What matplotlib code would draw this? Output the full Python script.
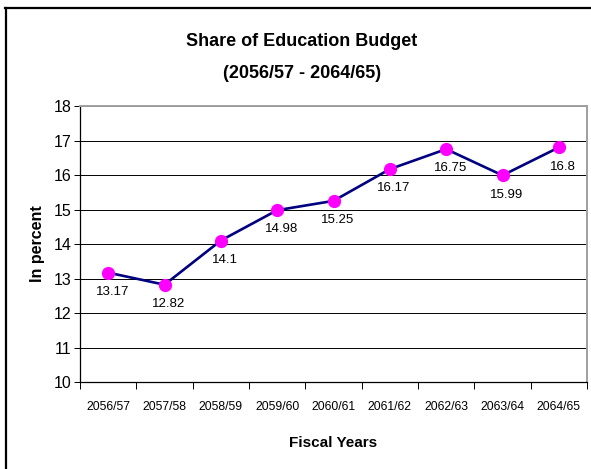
import matplotlib
matplotlib.use("Agg")
import matplotlib.pyplot as plt
from matplotlib.lines import Line2D

plt.rcParams["font.family"] = ["Liberation Sans", "DejaVu Sans"]

years = ["2056/57", "2057/58", "2058/59", "2059/60", "2060/61",
         "2061/62", "2062/63", "2063/64", "2064/65"]
share = [13.17, 12.82, 14.1, 14.98, 15.25, 16.17, 16.75, 15.99, 16.8]
share_labels = ["13.17", "12.82", "14.1", "14.98", "15.25",
                "16.17", "16.75", "15.99", "16.8"]

W, H = 591, 469
fig = plt.figure(figsize=(W / 100, H / 100), dpi=100)
fig.patch.set_facecolor("white")

# outer chart frame (left and top edges visible)
fig.add_artist(Line2D([5.5 / W, 5.5 / W], [0, 1 - 8 / H], transform=fig.transFigure,
                      color="black", lw=1.6))
fig.add_artist(Line2D([5 / W, 1], [1 - 8.5 / H, 1 - 8.5 / H], transform=fig.transFigure,
                      color="black", lw=1.6))

left, right, top, bottom = 80, 587, 106, 382
ax = fig.add_axes([left / W, 1 - bottom / H, (right - left) / W, (bottom - top) / H])

x = list(range(len(years)))
ax.plot(x, share, color="#000080", lw=1.9, zorder=3)
ax.plot(x, share, ls="none", marker="o", ms=8.5, color="#ff00ff",
        markeredgecolor="#ff00ff", zorder=4)
for xi, yi, lab in zip(x, share, share_labels):
    ax.annotate(lab, (xi, yi), xytext=(3, -9.5), textcoords="offset points",
                ha="center", va="top", fontsize=9.5, color="black", zorder=5)

ax.set_xlim(-0.5, len(years) - 0.5)
ax.set_ylim(10, 18)
ax.set_yticks(range(10, 19))
ax.set_yticklabels([str(v) for v in range(10, 19)], fontsize=11.5)
ax.yaxis.grid(True, color="black", lw=0.7)
ax.set_axisbelow(True)

# category boundaries as ticks, labels centred between them
ax.set_xticks([i - 0.5 for i in range(len(years) + 1)])
ax.set_xticklabels([])
ax.set_xticks(x, minor=True)
ax.set_xticklabels(years, minor=True, fontsize=8.8)
ax.tick_params(axis="x", which="major", length=5, width=0.7, color="black")
ax.tick_params(axis="x", which="minor", length=0, pad=14)
ax.tick_params(axis="y", length=4, width=0.7, color="black", pad=2)

for side in ("left", "bottom"):
    ax.spines[side].set_color("black")
    ax.spines[side].set_linewidth(0.9)
for side in ("top", "right"):
    ax.spines[side].set_color("#a0a0a0")
    ax.spines[side].set_linewidth(1.4)

ax.set_ylabel("In percent", fontsize=11.5, fontweight="bold", labelpad=6)
ax.set_xlabel("Fiscal Years", fontsize=11, fontweight="bold", labelpad=16)

fig.text(302 / W, 1 - 41 / H, "Share of Education Budget",
         ha="center", va="center", fontsize=13, fontweight="bold")
fig.text(302 / W, 1 - 73 / H, "(2056/57 - 2064/65)",
         ha="center", va="center", fontsize=13, fontweight="bold")

fig.savefig("out.png", dpi=100)
